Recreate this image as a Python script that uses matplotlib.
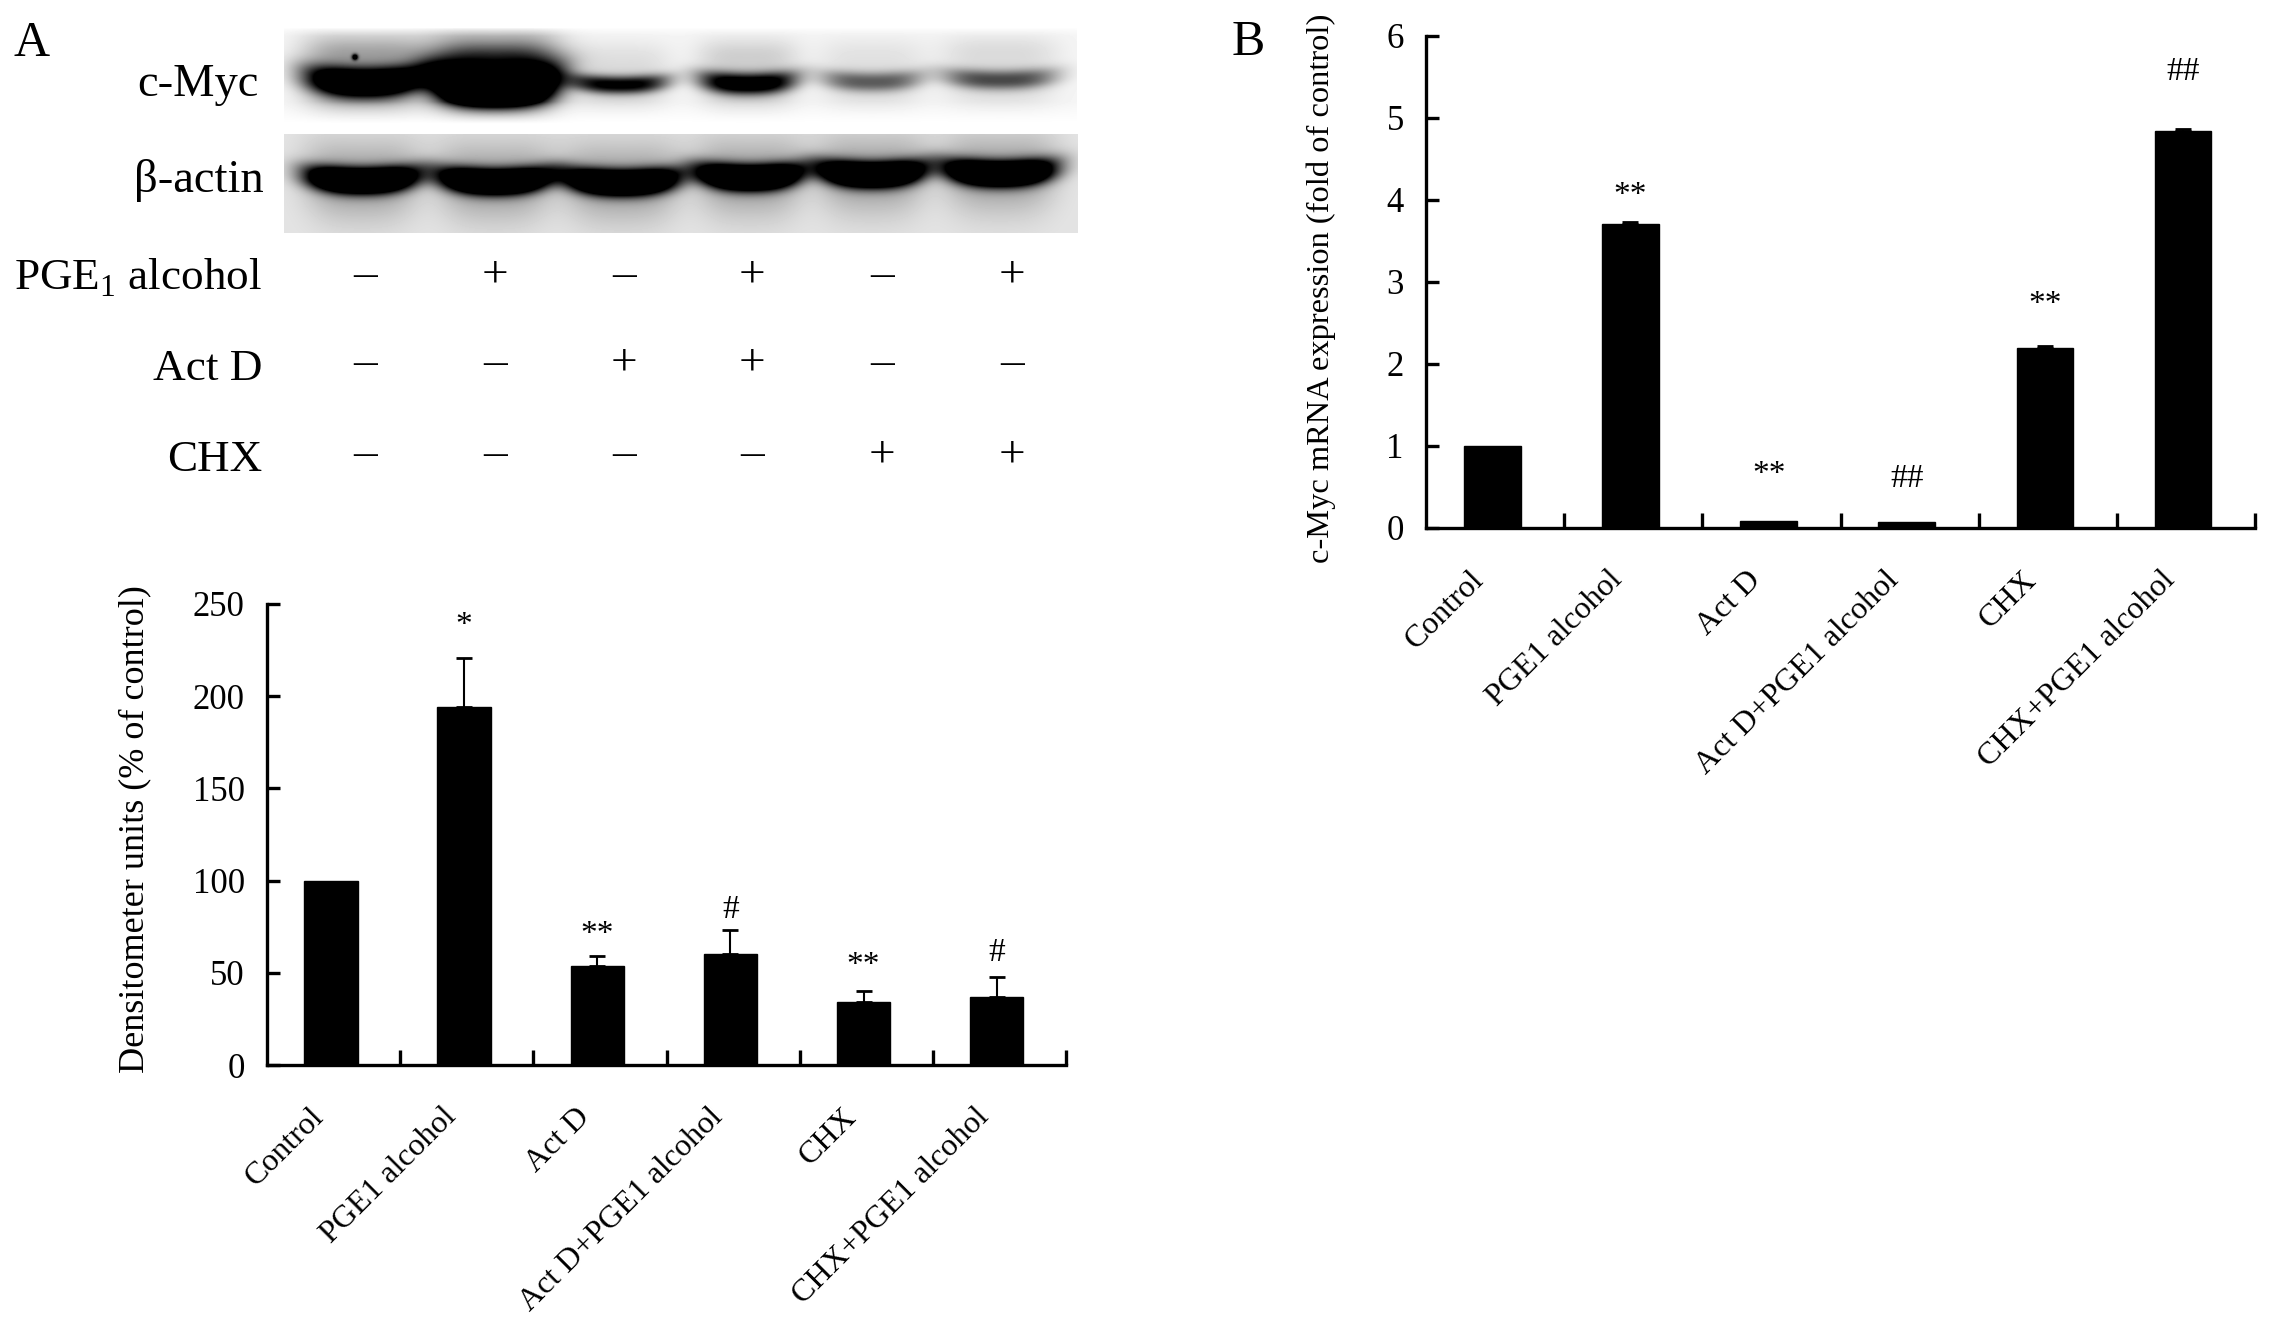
import numpy as np
import matplotlib
matplotlib.use("Agg")
import matplotlib.pyplot as plt

plt.rcParams['font.family'] = ['Liberation Serif', 'DejaVu Serif']
plt.rcParams['mathtext.fontset'] = 'custom'
plt.rcParams['mathtext.rm'] = 'Liberation Serif'

W, H = 2270, 1338

# ---- data ----
categories = ['Control', 'PGE1 alcohol', 'Act D', 'Act D+PGE1 alcohol', 'CHX', 'CHX+PGE1 alcohol']
densito_values = [100, 194, 53.5, 60, 34, 37]
densito_errors = [0, 26.5, 5.5, 13, 6, 10.5]
densito_marks = ['', '*', '**', '#', '**', '#']
densito_mark_y = [0, 238, 70.5, 84, 54, 61]
mrna_values = [1.0, 3.71, 0.09, 0.07, 2.2, 4.84]
mrna_errors = [0, 0.025, 0, 0, 0.025, 0.025]
mrna_marks = ['', '**', '**', '##', '**', '##']
mrna_mark_y = [0, 4.05, 0.65, 0.6, 2.72, 5.57]
densito_ticks = [0, 50, 100, 150, 200, 250]
mrna_ticks = [0, 1, 2, 3, 4, 5, 6]

treatments = ['PGE$_{\\mathrm{1}}$ alcohol', 'Act D', 'CHX']
pge_flags = ['-', '+', '-', '+', '-', '+']
actd_flags = ['-', '-', '+', '+', '-', '-']
chx_flags = ['-', '-', '-', '-', '+', '+']

# blot bands: centre x, half width, centre y, half height, darkness
myc_x = [365, 495, 620, 748, 872, 1000]
myc_w = [62, 64, 50, 50, 52, 58]
myc_y = [83, 89, 85, 84, 82, 80]
myc_h = [15, 20, 9, 11, 10, 10]
myc_d = [1.25, 1.8, 0.85, 1.0, 0.5, 0.56]
myc_halo = [0.34, 0.5, 0.16, 0.18, 0.12, 0.13]
myc_upper = [0.14, 0.42, 0.05, 0.09, 0.04, 0.07]
actin_x = [362, 495, 622, 750, 872, 1000]
actin_w = [58, 58, 59, 54, 55, 57]
actin_y = [181, 182, 183, 178, 175, 174]
actin_h = [13, 13, 13, 13, 13, 13]
actin_d = [1.5, 1.5, 1.5, 1.5, 1.5, 1.5]
actin_halo = [0.3, 0.3, 0.3, 0.3, 0.3, 0.3]
actin_upper = [0, 0, 0, 0, 0, 0]
spot_x = [355]
spot_y = [57]

fig = plt.figure(figsize=(W / 100, H / 100), dpi=100, facecolor='white')


def make_axes(x0, y_top, x1, y_bot):
    return fig.add_axes([x0 / W, 1 - y_bot / H, (x1 - x0) / W, (y_bot - y_top) / H])


def px(x, y, s, **kw):
    fig.text(x / W, 1 - y / H, s, **kw)


def blot(x0, y0, x1, y1, xs, ws, ys, hs, ds, halos, uppers, base, fade_px, spots=()):
    ax = make_axes(x0, y0, x1, y1)
    xx, yy = np.meshgrid(np.arange(x0, x1) + 0.5, np.arange(y0, y1) + 0.5)
    dark = np.full(xx.shape, base, dtype=float)
    for cx, w, cy, h, d, halo, up in zip(xs, ws, ys, hs, ds, halos, uppers):
        u = (xx - cx) / w
        lane = np.exp(-np.abs(u) ** 3.5)
        dy = yy - cy + 7 * u ** 2 * (h / 15)
        dark += d * lane * np.exp(-(np.abs(dy) / h) ** 2.4)
        dark += halo * lane * np.exp(-(dy / (h * 3.0)) ** 2)
        dark += up * lane * np.exp(-((yy - cy + 32) / 15) ** 2)
    for sx, sy in spots:
        dark += 0.9 * np.exp(-(((xx - sx) / 3) ** 2 + ((yy - sy) / 3) ** 2))
    if fade_px:
        dark *= np.clip((y1 - yy) / fade_px, 0, 1)
        dark *= np.clip((yy - y0) / 8, 0, 1) ** 0.5
    img = 1 - np.clip(dark, 0, 1) ** 1.1
    ax.imshow(img, cmap='gray', vmin=0, vmax=1, aspect='auto', interpolation='bilinear')
    ax.axis('off')


blot(284, 28, 1077, 124, myc_x, myc_w, myc_y, myc_h, myc_d, myc_halo, myc_upper, 0.05, 22,
     list(zip(spot_x, spot_y)))
blot(284, 134, 1078, 233, actin_x, actin_w, actin_y, actin_h, actin_d, actin_halo, actin_upper, 0.13, 0)

# texts of panel A top
label_size = 32.5
px(14, 56, 'A', fontsize=36, ha='left', va='baseline')
px(259, 96, 'c-Myc', fontsize=33.5, ha='right', va='baseline')
px(264, 192, '\u03b2-actin', fontsize=33.5, ha='right', va='baseline')

col_x = [365, 495, 624, 752, 882, 1012]
row_y = [276, 364, 455]
row_label_y = [290, 380, 471]
for name, ly, ry, flags in zip(treatments, row_label_y, row_y, [pge_flags, actd_flags, chx_flags]):
    px(262, ly, name, fontsize=label_size, ha='right', va='baseline')
    for cx, fl in zip(col_x, flags):
        px(cx, ry + 11, '+' if fl == '+' else '\u2013', fontsize=34, ha='center', va='baseline')


def bar_panel(rect, vals, errs, marks, mark_y, ticks, ylabel, ylabel_x, ylabel_y, ylabel_size, bw):
    ax = make_axes(*rect)
    pos = np.arange(len(vals)) + 0.48
    vals = np.array(vals, dtype=float)
    errs = np.array(errs, dtype=float)
    ax.bar(pos, vals, width=bw, color='black', edgecolor='black', linewidth=1)
    has = errs > 0
    ax.errorbar(pos[has], vals[has], yerr=[np.zeros(has.sum()), errs[has]], fmt='none', ecolor='black',
                elinewidth=1.5, capsize=6, capthick=2)
    ax.set_xlim(0, 6)
    ax.set_ylim(ticks[0], ticks[-1])
    for s in ('top', 'right'):
        ax.spines[s].set_visible(False)
    for s in ('left', 'bottom'):
        ax.spines[s].set_linewidth(2.4)
    ax.set_yticks(ticks)
    ax.tick_params(axis='y', direction='in', length=9, width=2.4, labelsize=25, pad=16)
    ax.set_xticks(np.arange(1, 7))
    ax.set_xticklabels([])
    ax.tick_params(axis='x', which='major', direction='in', length=11, width=2.4)
    ax.set_xticks(pos - 0.165, minor=True)
    ax.set_xticklabels(categories, minor=True, rotation=45, ha='right', va='top',
                       rotation_mode='anchor', fontsize=23)
    ax.tick_params(axis='x', which='minor', length=0, pad=27)
    for p, m, y in zip(pos, marks, mark_y):
        if m:
            ax.text(p, y, m, fontsize=24, ha='center', va='center', clip_on=False)
    px(ylabel_x, ylabel_y, ylabel, fontsize=ylabel_size, rotation=90, ha='center', va='center')
    return ax


bar_panel((267, 604, 1066, 1065), densito_values, densito_errors, densito_marks, densito_mark_y,
          densito_ticks, 'Densitometer units (% of control)', 135, 829, 26, 0.40)
bar_panel((1426, 36, 2255, 528), mrna_values, mrna_errors, mrna_marks, mrna_mark_y,
          mrna_ticks, 'c-Myc mRNA expression (fold of control)', 1321, 288, 23.4, 0.41)

px(1232, 55, 'B', fontsize=36, ha='left', va='baseline')

fig.savefig('out.png', dpi=100, facecolor='white')
